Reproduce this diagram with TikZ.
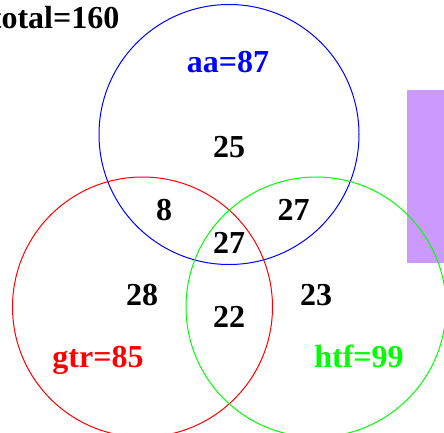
\documentclass[tikz,border=0pt]{standalone}
\usepackage{fontspec}
\setmainfont{Liberation Serif}
\definecolor{vpurple}{RGB}{204,153,255}
\definecolor{vblue}{RGB}{0,0,255}
\definecolor{vred}{RGB}{255,0,0}
\definecolor{vgreen}{RGB}{0,255,0}
\tikzset{
  setcircle/.style={draw, circle, line width=1pt, minimum size=260pt, inner sep=0pt},
  lbl/.style={inner sep=0pt, anchor=base, font=\bfseries\fontsize{32}{36}\selectfont},
}
\begin{document}
\begin{tikzpicture}[x=1pt,y=-1pt]
\useasboundingbox (0,0) rectangle (444,432);
\clip (0,0) rectangle (444,432);
\fill[vpurple] (407,90) rectangle (450,263);
\node[setcircle, draw=vblue] (aa) at (229,134.5) {};
\node[setcircle, draw=vred] (gtr) at (142.5,307) {};
\node[setcircle, draw=vgreen] (htf) at (316,307) {};
\node[lbl, anchor=base east] (total) at (119.5,28) {total=160};
\node[lbl, text=vblue] (aalbl) at (228,72) {aa=87};
\node[lbl, text=vred] (gtrlbl) at (98,367) {gtr=85};
\node[lbl, text=vgreen] (htflbl) at (359,367) {htf=99};
\node[lbl] (n25) at (229,157) {25};
\node[lbl] (n8) at (164,220) {8};
\node[lbl] (n27a) at (293.5,220) {27};
\node[lbl] (n27b) at (229,253) {27};
\node[lbl] (n28) at (142,305) {28};
\node[lbl] (n22) at (229,327) {22};
\node[lbl] (n23) at (316,305) {23};
\end{tikzpicture}
\end{document}
